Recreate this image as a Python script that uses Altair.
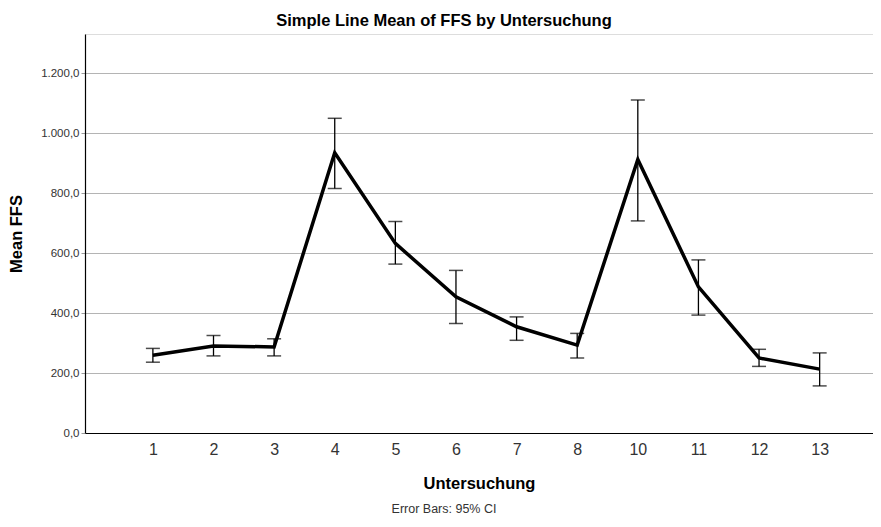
import altair as alt
import pandas as pd

categories = ["1", "2", "3", "4", "5", "6", "7", "8", "10", "11", "12", "13"]
means = [259, 290, 287, 934, 632, 454, 354, 293, 912, 487, 250, 213]
ci_low = [236, 257, 257, 815, 563, 365, 309, 250, 707, 393, 222, 157]
ci_high = [282, 325, 314, 1049, 705, 542, 387, 332, 1110, 577, 279, 267]

df = pd.DataFrame({"cat": categories, "mean": means, "lo": ci_low, "hi": ci_high})

FONT = "Liberation Sans"

xscale = alt.Scale(domain=categories, type="point", padding=1.045, align=0.56)
xenc = alt.X("cat:O", sort=categories, scale=xscale,
             axis=alt.Axis(title="Untersuchung", labelAngle=0, ticks=False,
                           labelFontSize=16, labelColor="#333333", labelFont=FONT,
                           labelPadding=8, titleFontSize=16.5, titleFont=FONT,
                           titleFontWeight="bold", titlePadding=18,
                           domainColor="#000000", domainWidth=1.2, grid=False))
yscale = alt.Scale(domain=[0, 1330], nice=False, zero=True)

base = alt.Chart(df)

line = base.mark_line(color="black", strokeWidth=3.5).encode(
    x=xenc,
    y=alt.Y("mean:Q", scale=yscale,
            axis=alt.Axis(title="Mean FFS", values=[0, 200, 400, 600, 800, 1000, 1200],
                          labelExpr="replace(replace(replace(format(datum.value, ',.1f'), ',', '_'), '.', ','), '_', '.')",
                          labelFontSize=11.5, labelColor="#333333", labelFont=FONT,
                          tickSize=4, tickColor="#999999", labelPadding=2,
                          titleFontSize=16.5, titleFont=FONT, titleFontWeight="bold",
                          titlePadding=16, domainColor="#000000", domainWidth=1.2,
                          gridColor="#b4b4b4", gridWidth=1)),
)

rules = base.mark_rule(color="black", strokeWidth=1.3).encode(
    x=alt.X("cat:O", sort=categories, scale=xscale), y=alt.Y("lo:Q", scale=yscale), y2="hi:Q")
cap_lo = base.mark_tick(color="black", thickness=1.5, size=14, orient="horizontal").encode(
    x=alt.X("cat:O", sort=categories, scale=xscale), y=alt.Y("lo:Q", scale=yscale))
cap_hi = base.mark_tick(color="black", thickness=1.5, size=14, orient="horizontal").encode(
    x=alt.X("cat:O", sort=categories, scale=xscale), y=alt.Y("hi:Q", scale=yscale))

note = alt.Chart(pd.DataFrame({"t": ["Error Bars: 95% CI"]})).mark_text(
    font=FONT, fontSize=12.5, color="#333333", align="center", baseline="middle"
).encode(text="t:N", x=alt.value(359), y=alt.value(475))

chart = alt.layer(line, rules, cap_lo, cap_hi, note).properties(
    width=788, height=399,
    autosize=alt.AutoSizeParams(type="none"),
    padding={"left": 77, "top": 26, "right": 0, "bottom": 84},
    title=alt.TitleParams("Simple Line Mean of FFS by Untersuchung", font=FONT,
                          fontSize=16.5, fontWeight="bold", color="#000000",
                          anchor="middle", dx=-35, offset=5),
).configure_view(stroke=None).configure(background="white")

chart.save("out.html", embed_options={"renderer": "svg", "actions": False})
